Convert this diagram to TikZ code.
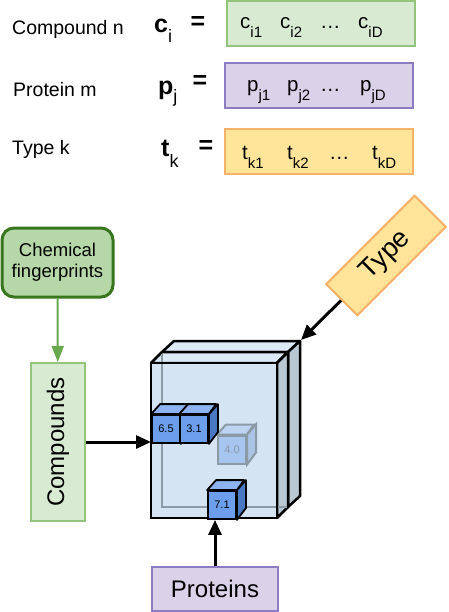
\documentclass[tikz,border=0pt]{standalone}
\usepackage{fontspec}
\setmainfont{Liberation Sans}
\usetikzlibrary{arrows.meta,positioning}

\definecolor{cfill}{HTML}{D9EAD3}
\definecolor{cline}{HTML}{93C47D}
\definecolor{fpfill}{HTML}{B6D7A8}
\definecolor{fpline}{HTML}{38761D}
\definecolor{fparrow}{HTML}{6AA84F}
\definecolor{pfill}{HTML}{D9D2E9}
\definecolor{pline}{HTML}{8E7CC3}
\definecolor{tfill}{HTML}{FFE599}
\definecolor{tline}{HTML}{F6B26B}
\definecolor{cubefront}{HTML}{D5E4F3}
\definecolor{cubetop}{HTML}{DDE9F6}
\definecolor{cubeside}{HTML}{BAC8D4}
\definecolor{cubehidden}{HTML}{8C9AA6}
\definecolor{minifront}{HTML}{6D9EEB}
\definecolor{minitop}{HTML}{8DB3F0}
\definecolor{miniside}{HTML}{4A79C4}

\newcommand{\fsz}[1]{\fontsize{#1}{#1}\selectfont}
\newcommand{\vsub}[2]{#1\raisebox{-9pt}{\fsz{15}#2}}

\begin{document}
\begin{tikzpicture}[x=1pt, y=-1pt, >={Triangle[length=15pt,width=13pt]}]
  \tikzstyle{rowname} = [anchor=base west, inner sep=0pt, font=\fsz{19.5}]
  \tikzstyle{vecname} = [anchor=base west, inner sep=0pt, font=\fsz{25}\bfseries]
  \tikzstyle{eqsign} = [inner sep=0pt, font=\fsz{25}\bfseries]
  \tikzstyle{vecbox} = [rectangle, draw, line width=2pt, minimum width=188pt, minimum height=45pt]
  \tikzstyle{entry} = [anchor=base west, inner sep=0pt, font=\fsz{20.5}]
  \tikzstyle{input} = [rectangle, draw, line width=2pt, font=\fsz{24}]
  \tikzstyle{minicube} = [rectangle, draw, line width=1.8pt, fill=minifront, minimum size=28pt, inner sep=0pt, font=\fsz{11}]
  \tikzstyle{flow} = [->, line width=3pt]

  \useasboundingbox (0,0) rectangle (448,612);

  % vectors
  \node [rowname] (cname) at (12,35) {Compound n};
  \node [vecname] (cvar) at (154,33) {c\raisebox{-10pt}{\fsz{18}\mdseries i}};
  \node [eqsign] (ceq) at (198,23) {=};
  \node [vecbox, fill=cfill, draw=cline] (cvec) at (321,24) {};
  \foreach \x/\s in {240/i1, 280/i2, 358/iD}
    \node [entry] (c\s) at (\x,29) {\vsub{c}{\s}};
  \node [entry] (cdots) at (320,29) {\dots};

  \node [rowname] (pname) at (13,97) {Protein m};
  \node [vecname] (pvar) at (158,95) {p\raisebox{-8pt}{\fsz{18}\mdseries j}};
  \node [eqsign] (peq) at (200,82) {=};
  \node [vecbox, fill=pfill, draw=pline] (pvec) at (319,86) {};
  \foreach \x/\s in {247/j1, 287/j2, 360/jD}
    \node [entry] (p\s) at (\x,92) {\vsub{p}{\s}};
  \node [entry] (pdots) at (320,92) {\dots};

  \node [rowname] (tname) at (12,155) {Type k};
  \node [vecname] (tvar) at (161,157) {t\raisebox{-11pt}{\fsz{18}\mdseries k}};
  \node [eqsign] (teq) at (206,147) {=};
  \node [vecbox, fill=tfill, draw=tline] (tvec) at (319,151.5) {};
  \foreach \x/\s in {242/k1, 287/k2, 372/kD}
    \node [entry] (t\s) at (\x,160) {\vsub{t}{\s}};
  \node [entry] (tdots) at (329,160) {\dots};

  % inputs
  \node [rectangle, draw=fpline, fill=fpfill, line width=3pt, rounded corners=12pt, minimum width=111pt, minimum height=69pt, align=center, font=\fontsize{18.5}{21}\selectfont] (chem) at (57.5,262.5) {Chemical\\fingerprints};
  \node [input, fill=cfill, draw=cline, rotate=90, minimum width=158pt, minimum height=54pt] (compounds) at (58,442) {Compounds};
  \node [input, fill=pfill, draw=pline, minimum width=126pt, minimum height=44pt] (proteins) at (215,588.5) {Proteins};
  \node [input, fill=tfill, draw=tline, rotate=45, minimum width=125pt, minimum height=44pt, font=\fsz{27}] (type) at (386,255.5) {Type};

  % tensor
  \filldraw [fill=cubetop, line width=2.5pt, line join=round] (162,352) -- (174,341) -- (300,341) -- (288,352) -- cycle;
  \filldraw [fill=cubeside, line width=2.5pt, line join=round] (288,352) -- (300,341) -- (300,496) -- (288,507) -- cycle;
  \filldraw [fill=cubetop, line width=2.5pt, line join=round] (151,363) -- (162,352) -- (288,352) -- (277,363) -- cycle;
  \filldraw [fill=cubeside, line width=2.5pt, line join=round] (277,363) -- (288,352) -- (288,507) -- (277,518) -- cycle;
  \fill [cubefront] (151,363) rectangle (277,518);
  \draw [cubehidden, line width=2pt] (162,354) -- (162,507) -- (287,507);
  \draw [line width=2.5pt] (151,363) rectangle (277,518);
  \coordinate (cubeleft) at (151,442);
  \coordinate (cubecorner) at (301,340);

  % entries
  \node [minicube, draw=cubehidden, fill=minifront!45!cubefront, text=cubehidden, line width=2pt] (v40) at (232,449.5) {4.0};
  \filldraw [draw=cubehidden, fill=minitop!35!cubefront, line width=2pt] (v40.north west) -- ++(9,-10) -- ++(28,0) -- (v40.north east) -- cycle;
  \filldraw [draw=cubehidden, fill=miniside!30!cubefront, line width=2pt] (v40.north east) -- ++(9,-10) -- ++(0,28) -- (v40.south east) -- cycle;
  \foreach \nm/\x/\y/\val in {v65/166/429/6.5, v31/194/429/3.1, v71/222/505/7.1} {
    \node [minicube] (\nm) at (\x,\y) {\val};
    \filldraw [fill=minitop, line width=1.8pt, line join=round] (\nm.north west) -- ++(9,-10) -- ++(28,0) -- (\nm.north east) -- cycle;
    \filldraw [fill=miniside, line width=1.8pt, line join=round] (\nm.north east) -- ++(9,-10) -- ++(0,28) -- (\nm.south east) -- cycle;
  }

  % connectors
  \draw [-{Triangle[length=16pt,width=12pt]}, fparrow, line width=2pt] (chem) -- (compounds);
  \draw [flow] (compounds) -- (cubeleft);
  \draw [flow] (proteins.north) -- (proteins.north |- v71.south);
  \draw [flow] (type.west) -- (cubecorner);
\end{tikzpicture}
\end{document}
